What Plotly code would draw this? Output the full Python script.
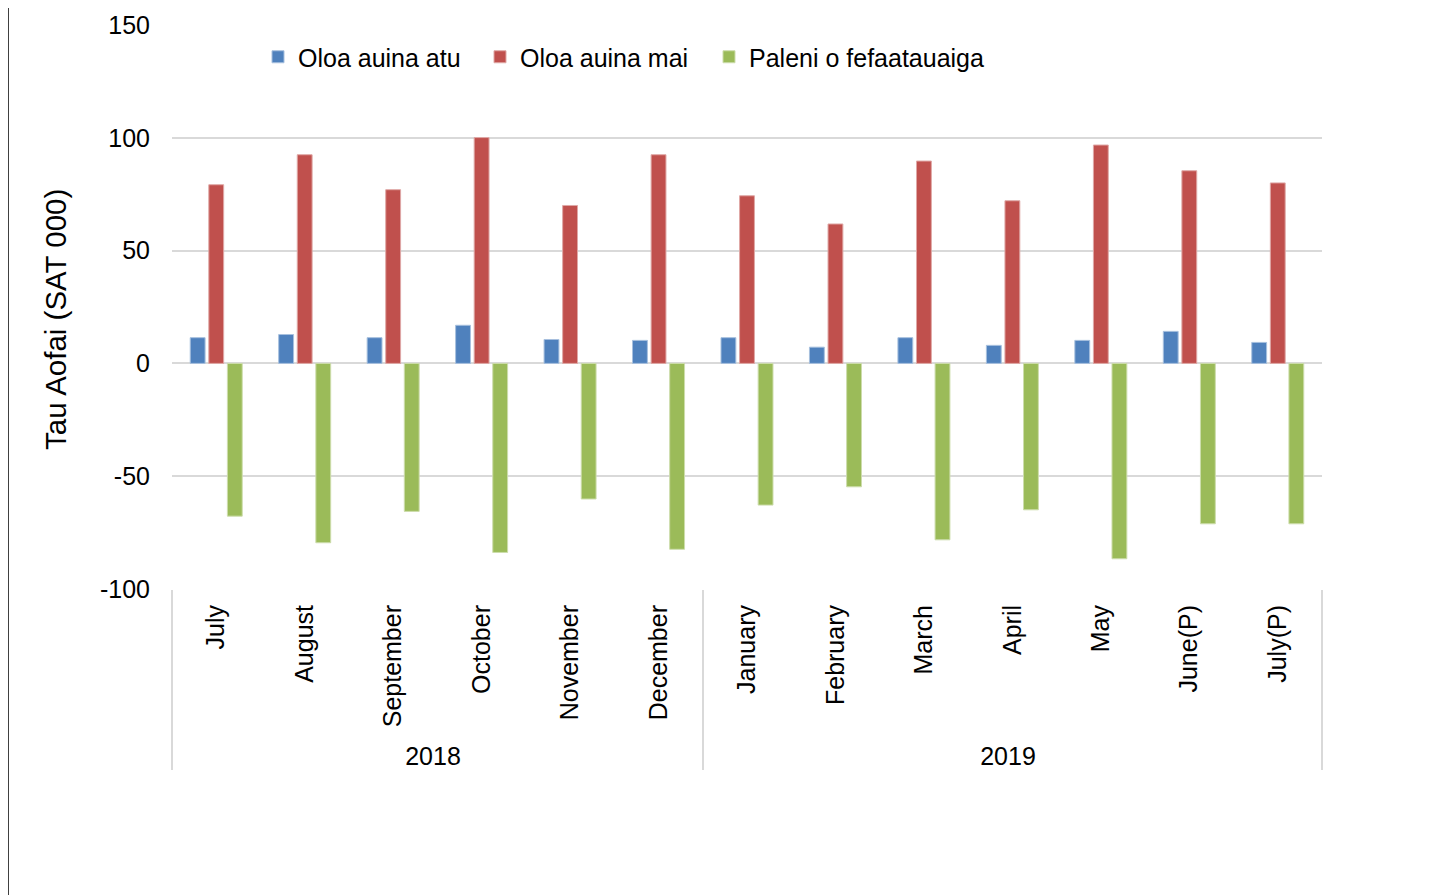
import plotly.graph_objects as go

years = ["2018"] * 6 + ["2019"] * 7
months = ["July", "August", "September", "October", "November", "December",
          "January", "February", "March", "April", "May", "June(P)", "July(P)"]
exports = [11.4, 12.8, 11.4, 16.9, 10.6, 10.2, 11.4, 7.2, 11.4, 8.0, 10.2, 14.2, 9.3]
imports = [79.2, 92.5, 77.0, 100.1, 70.0, 92.5, 74.3, 61.8, 89.7, 72.1, 96.8, 85.4, 80.0]
balance = [-67.7, -79.5, -65.6, -83.8, -60.1, -82.4, -62.8, -54.7, -78.2, -64.9, -86.6, -71.1, -71.1]
y_ticks = [-100, -50, 0, 50, 100, 150]
y_labels = ["-100", "-50", "0", "50", "100", "150"]

names = ["Oloa auina atu", "Oloa auina mai", "Paleni o fefaatauaiga"]
colors = ["#4F81BD", "#C0504D", "#9BBB59"]
edges = ["#A7C0DE", "#DFA8A6", "#CDDDAC"]

FONT = "Liberation Sans, Arial, sans-serif"
L, T = 164, 17
PW, PH = 1150, 564
legend_px = [250, 472, 701]
legend_ids = ["legend", "legend2", "legend3"]

fig = go.Figure()
for name, vals, c, e, lid in zip(names, [exports, imports, balance], colors, edges, legend_ids):
    fig.add_trace(go.Bar(x=[years, months], y=vals, name=name, legend=lid,
                         marker=dict(color=c, line=dict(color=e, width=1))))

leg_y = (PH - (57 - 8 - T)) / PH
legends = {}
for lid, px in zip(legend_ids, legend_px):
    legends[lid] = dict(orientation="h", x=(px - L) / PW, y=leg_y,
                        xanchor="left", yanchor="middle",
                        font=dict(family=FONT, size=25), bgcolor="rgba(0,0,0,0)")

fig.update_layout(
    width=1440, height=895,
    paper_bgcolor="white", plot_bgcolor="white",
    margin=dict(l=L, r=1440 - L - PW, t=T, b=895 - T - PH, autoexpand=False),
    barmode="group", bargap=0.37, bargroupgap=0.2,
    font=dict(family=FONT, size=25, color="#000000"),
    showlegend=True,
    **legends,
)
fig.update_yaxes(range=[-100, 150], tickvals=y_ticks, ticktext=y_labels,
                 showgrid=True, gridcolor="#D9D9D9", gridwidth=1.5,
                 zeroline=True, zerolinecolor="#D9D9D9", zerolinewidth=1.5,
                 showline=False, ticks="", ticklabelstandoff=21, automargin=False,
                 tickfont=dict(family=FONT, size=25))
fig.update_xaxes(type="multicategory", tickangle=-90, showgrid=False,
                 showline=False, ticks="", showdividers=True, automargin=False,
                 dividercolor="#D9D9D9", dividerwidth=1.5, ticklabelstandoff=10,
                 tickfont=dict(family=FONT, size=25))

fig.add_annotation(text="Tau Aofai (SAT 000)", textangle=-90, xref="paper", yref="paper",
                   x=(47 - L) / PW, y=(PH - (320 - 8 - T)) / PH, showarrow=False,
                   xanchor="center", yanchor="middle",
                   font=dict(family=FONT, size=29.5))
fig.add_shape(type="line", xref="paper", yref="paper",
              x0=(0 - L) / PW, x1=(0 - L) / PW, y0=-2, y1=2,
              line=dict(color="#000000", width=1.5))

fig.write_html("out.html")
